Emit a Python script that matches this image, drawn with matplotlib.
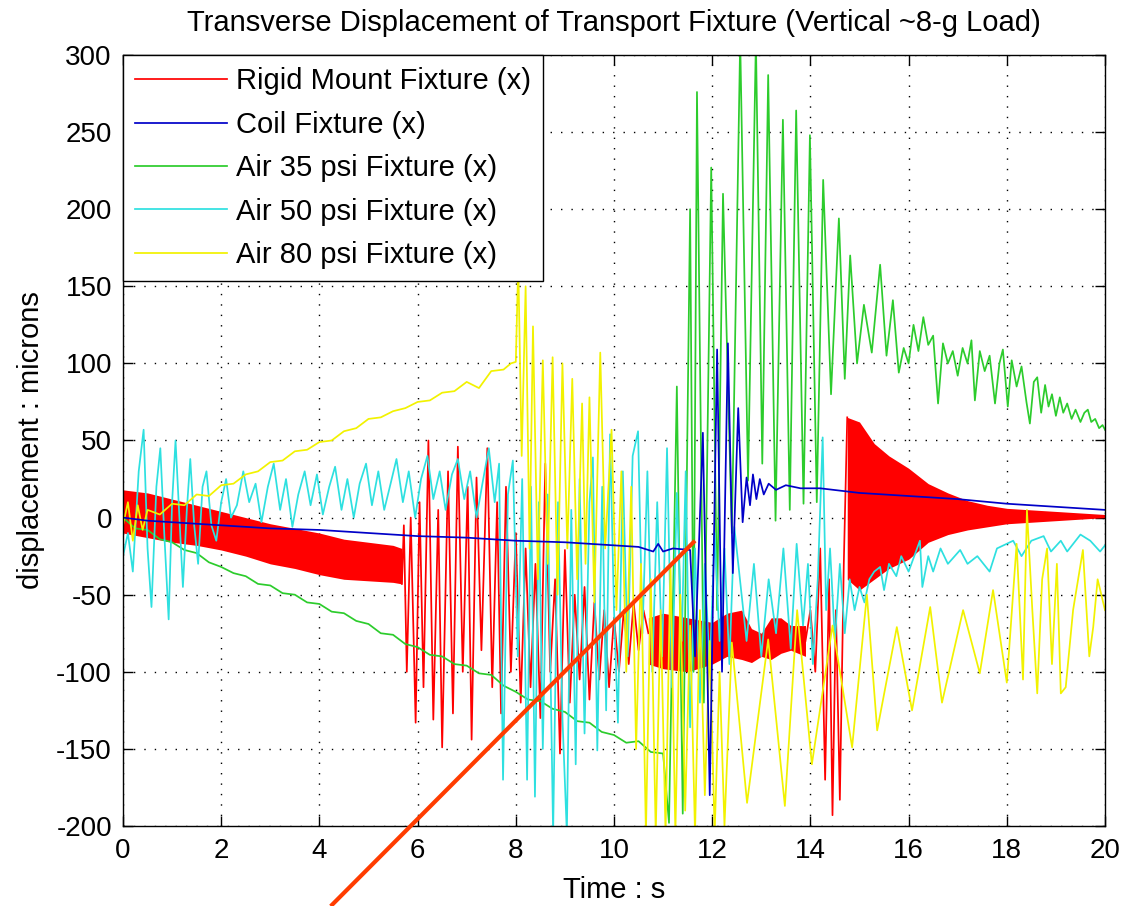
import matplotlib
matplotlib.use('Agg')
import matplotlib.pyplot as plt
from matplotlib.lines import Line2D

plt.rcParams['font.family'] = ['Liberation Sans', 'DejaVu Sans']
plt.rcParams['axes.unicode_minus'] = False

# ---------------- data ----------------
title = 'Transverse Displacement of Transport Fixture (Vertical ~8-g Load)'
xlabel = 'Time : s'
ylabel = 'displacement : microns'
series_names = ['Rigid Mount Fixture (x)', 'Coil Fixture (x)', 'Air 35 psi Fixture (x)',
                'Air 50 psi Fixture (x)', 'Air 80 psi Fixture (x)']
x_ticks = [0, 2, 4, 6, 8, 10, 12, 14, 16, 18, 20]
y_ticks = [-200, -150, -100, -50, 0, 50, 100, 150, 200, 250, 300]

# Rigid mount: dense bands (envelopes) + large oscillation segments
red_band1_t = [0, 0.5, 1.0, 1.5, 2.0, 2.5, 3.0, 3.5, 4.0, 4.5, 5.0, 5.5, 5.68]
red_band1_hi = [18, 16, 12, 8, 4, 0, -4, -7, -10, -14, -16, -18, -20]
red_band1_lo = [-10, -13, -16, -18, -21, -25, -30, -33, -37, -40, -41, -42, -43]
red_line1_t = [5.68, 5.72, 5.78, 5.86, 5.96, 6.04, 6.12, 6.22, 6.32, 6.42, 6.50, 6.62, 6.72,
               6.82, 6.92, 7.02, 7.10, 7.20, 7.30, 7.42, 7.52, 7.62, 7.70, 7.80, 7.90, 8.00,
               8.10, 8.20, 8.30, 8.40, 8.50, 8.60, 8.70, 8.80, 8.90, 9.00, 9.10, 9.20, 9.30,
               9.40, 9.50, 9.60, 9.70, 9.80, 9.90, 10.00, 10.10, 10.20, 10.30, 10.40, 10.50,
               10.60, 10.70]
red_line1_v = [-43, -5, -100, 0, -133, 10, -110, 50, -131, 5, -149, 30, -127, 46, -100, 20,
               -144, 26, -86, 45, -110, 10, -127, 20, -100, -10, -120, -20, -110, -30, -130,
               35, -100, -40, -153, -21, -120, -50, -105, -45, -118, -55, -105, -60, -110,
               -65, -100, -60, -95, -55, -86, -60, -75]
red_band2_t = [10.7, 11.0, 11.5, 12.0, 12.3, 12.6, 12.8, 13.0, 13.2, 13.4, 13.6, 13.9]
red_band2_hi = [-65, -62, -65, -68, -62, -60, -72, -75, -65, -65, -70, -70]
red_band2_lo = [-95, -98, -100, -95, -90, -92, -94, -90, -92, -88, -86, -90]
red_line2_t = [13.9, 14.0, 14.1, 14.2, 14.3, 14.38, 14.45, 14.52, 14.6, 14.68, 14.75]
red_line2_v = [-80, -60, -100, -20, -170, -40, -193, -60, -183, -30, 65]
red_band3_t = [14.75, 15.0, 15.3, 15.6, 16.0, 16.4, 16.8, 17.2, 17.6, 18.0, 18.5, 19.0, 19.5, 20.0]
red_band3_hi = [65, 62, 48, 40, 32, 22, 16, 11, 8, 6, 5, 4, 3, 2]
red_band3_lo = [-40, -47, -40, -33, -27, -16, -11, -8, -6, -4, -3, -2, -1, 0]

# Coil fixture
blue_t = [0, 0.5, 1, 2, 3, 4, 5, 6, 7, 8, 9, 10, 10.5, 10.8, 10.9, 11.0, 11.2, 11.55, 11.65,
          11.81, 11.95, 12.1, 12.2, 12.32, 12.42, 12.53, 12.62, 12.7, 12.77, 12.83, 12.9,
          12.97, 13.05, 13.15, 13.3, 13.5, 13.8, 14.2, 15, 16, 17, 18, 19, 20]
blue_v = [0, -2, -3, -5, -7, -8, -10, -12, -13, -15, -16, -18, -19, -22, -17, -22, -20, -21,
          -90, 55, -180, 109, -100, 113, -36, 71, -3, 26, 8, 28, 12, 25, 15, 22, 18, 21, 19,
          19, 16, 14, 12, 9, 7, 5]

# Air 35 psi
green_t = [0, 0.25, 0.5, 0.75, 1.0, 1.25, 1.5, 1.75, 2.0, 2.25, 2.5, 2.75, 3.0, 3.25, 3.5,
           3.75, 4.0, 4.25, 4.5, 4.75, 5.0, 5.25, 5.5, 5.75, 6.0, 6.25, 6.5, 6.75, 7.0, 7.25,
           7.5, 7.75, 8.0, 8.25, 8.5, 8.75, 9.0, 9.25, 9.5, 9.75, 10.0, 10.25, 10.5, 10.75,
           11.0,
           11.12, 11.28, 11.4, 11.55, 11.62, 11.69, 11.83, 11.98, 12.1, 12.22, 12.4, 12.57,
           12.73, 12.89, 13.02, 13.14, 13.29, 13.44, 13.58, 13.71, 13.86, 13.99, 14.13,
           14.26, 14.42, 14.58, 14.7, 14.81, 14.95, 15.09, 15.25, 15.42, 15.55, 15.68, 15.8,
           15.9, 16.0, 16.1, 16.2, 16.3, 16.4, 16.5, 16.6, 16.7, 16.8, 16.9, 17.0, 17.1,
           17.2, 17.28, 17.35, 17.45, 17.55, 17.65, 17.76, 17.85, 17.92, 18.02, 18.1, 18.2,
           18.3, 18.4, 18.47, 18.55, 18.62, 18.7, 18.78, 18.85, 18.92, 19.0, 19.08, 19.15,
           19.23, 19.32, 19.4, 19.5, 19.58, 19.65, 19.72, 19.8, 19.88, 19.95, 20.0]
green_v = [0, -7, -8, -14, -16, -21, -23, -29, -32, -36, -38, -43, -44, -49, -50, -55, -56,
           -61, -62, -67, -69, -75, -76, -82, -84, -89, -90, -95, -96, -101, -102, -109,
           -113, -118, -119, -124, -126, -132, -133, -139, -141, -146, -145, -152, -153,
           -198, 85, -192, 200, -100, 276, -120, 227, -60, 210, -10, 310, 24, 310, 35, 287,
           -2, 258, 5, 264, 9, 248, 10, 219, 80, 194, 90, 170, 100, 138, 107, 164, 105, 141,
           94,
           110, 100, 125, 108, 130, 112, 118, 74, 113, 100, 108, 92, 110, 100, 115, 76, 108,
           95, 105, 74, 100, 109, 72, 102, 85, 98, 75, 61, 88, 91, 68, 86, 72, 80, 66, 78,
           68, 74, 64, 70, 62, 68, 70, 62, 64, 58, 60, 57]

# Air 50 psi
cyan_t = [0, 0.1, 0.2, 0.32, 0.42, 0.5, 0.58, 0.68, 0.76, 0.84, 0.93, 1.0, 1.07, 1.15, 1.22,
          1.3, 1.37, 1.45, 1.53, 1.62, 1.7, 1.8, 1.9, 2.0,
          2.1, 2.2, 2.32, 2.45, 2.57, 2.7, 2.82, 2.95, 3.07, 3.2, 3.32, 3.45, 3.57, 3.7, 3.82,
          3.95, 4.07, 4.2, 4.32, 4.45, 4.57, 4.7, 4.82, 4.95, 5.07, 5.2, 5.32, 5.45, 5.57,
          5.7, 5.82, 5.95, 6.07, 6.2, 6.32, 6.45, 6.57, 6.7, 6.82, 6.95, 7.07, 7.2, 7.32,
          7.45, 7.57,
          7.66, 7.74, 7.84, 7.94, 8.04, 8.13, 8.23, 8.31, 8.39, 8.47, 8.55, 8.65, 8.76, 8.86,
          8.95, 9.04, 9.13, 9.22, 9.3, 9.4, 9.5, 9.57, 9.66, 9.76, 9.84, 9.92, 10.0, 10.08,
          10.18, 10.28, 10.38, 10.49, 10.58, 10.68, 10.78, 10.88, 10.98, 11.08, 11.18,
          11.28, 11.38, 11.46, 11.55, 11.65, 11.75, 11.85, 11.95, 12.05, 12.15, 12.25,
          12.35, 12.45,
          12.7, 12.85, 13.0, 13.15, 13.3, 13.45, 13.6, 13.72, 13.85, 13.95, 14.05, 14.15,
          14.25, 14.32, 14.4, 14.5, 14.6, 14.7, 14.8, 14.9, 15.0, 15.1, 15.2, 15.3, 15.42,
          15.5, 15.6, 15.75, 15.85, 16.0, 16.23, 16.28, 16.4, 16.5, 16.65, 16.8, 17.05,
          17.2, 17.4, 17.65, 17.8, 18.13, 18.3, 18.5, 18.75, 18.9, 19.1, 19.23, 19.5, 19.7,
          19.9, 20.0]
cyan_v = [-25, -10, -35, 30, 57, -20, -58, 20, 45, -10, -66, 10, 50, 0, -45, 5, 38, -5, -30,
          20, 30, -5, -15, 10,
          25, 0, 8, 30, 10, 22, -3, 20, 35, 5, 25, -6, 15, 30, 8, 28, 2, 20, 33, 5, 25, 0,
          22, 35, 8, 30, 5, 22, 38, 10, 30, 0, 25, 40, 12, 30, 5, 28, 38, 12, 30, 0, 22, 45,
          10,
          35, -170, 15, 37, -90, 25, -170, 20, -181, 10, -150, 15, -205, 10, -130, -205, 5,
          -160, 25, -140, 10, 39, -151, 20, -125, 54, -60, -133, 30, -90, 40, 56, -75, 30,
          -100, 10, -90, 45, -110, 16, -80, 30, -136, -20, -120, -30, -100, -10, -80, -20,
          -95, -6,
          -80, -30, -90, -40, -75, -20, -85, -17, -70, -30, -95, -40, 52, -60, -20, -80, -30,
          -75, -40, -60, -45, -55, -40, -35, -32, -47, -30, -38, -25, -35, -15, -45, -25,
          -35, -20, -30, -21, -30, -25, -35, -20, -15, -25, -15, -12, -22, -15, -22, -11,
          -15, -22, -18]

# Air 80 psi
yellow_t = [0, 0.1, 0.2, 0.3, 0.4, 0.5, 0.75, 1.0, 1.25, 1.5, 1.75, 2.0, 2.25, 2.5, 2.75, 3.0,
            3.25, 3.5, 3.75, 4.0, 4.25, 4.5, 4.75, 5.0, 5.25, 5.5, 5.75, 6.0, 6.25, 6.5, 6.75,
            7.0, 7.25, 7.5, 7.75, 7.9, 8.0,
            8.05, 8.12, 8.2, 8.28, 8.35, 8.45, 8.55, 8.65, 8.75, 8.85, 8.95, 9.05, 9.15, 9.25,
            9.35, 9.42, 9.5, 9.6, 9.72, 9.82, 9.95, 10.05, 10.15, 10.25, 10.35, 10.45, 10.55,
            10.65, 10.75, 10.85, 10.95, 11.05, 11.15, 11.25, 11.35, 11.45, 11.55, 11.65,
            11.75, 11.85, 11.95, 12.05, 12.15, 12.25,
            12.4, 12.71, 13.14, 13.48, 13.73, 14.03, 14.45, 14.85, 15.15, 15.36, 15.76, 16.07,
            16.44, 16.68, 17.11, 17.45, 17.72, 18.0, 18.2, 18.33, 18.41, 18.52, 18.62, 18.72,
            18.82, 18.92, 19.02, 19.1, 19.2, 19.35, 19.55, 19.68, 19.76, 19.85, 20.0]
yellow_v = [-5, 10, -15, 8, -8, 5, 2, 9, 8, 15, 14, 21, 22, 28, 30, 36, 37, 43, 44, 49, 50, 56,
            58, 64, 65, 69, 71, 75, 76, 81, 82, 88, 84, 95, 96, 100, 101,
            165, 40, 150, -20, 124, -40, 102, -30, 104, -50, 100, -20, 90, -40, 74, -30, 78,
            -55, 107, -20, 57, -60, 30, -100, 20, -150, -30, -205, -40, -205, -60, -205, -30,
            -205, -50, -190, -70, -205, -60, -180, -80, -205, -100, -200,
            -81, -185, -79, -187, -60, -160, -70, -149, -50, -138, -71, -125, -58, -120, -60,
            -101, -47, -107, -17, -105, 5, -60, -114, -40, -20, -95, -30, -114, -110, -60,
            -21, -90, -71, -40, -60]

# hand-drawn annotation stroke (data coordinates of its two ends)
annot_t = [4.23, 11.65]
annot_v = [-252, -15]

# ---------------- styling ----------------
c_red, c_blue, c_green, c_cyan, c_yellow = '#ff0000', '#0000c8', '#2ccc2c', '#2ee0e0', '#f2f200'
lw = 1.25

fig = plt.figure(figsize=(11.21, 9.06), dpi=100)
ax = fig.add_axes([123 / 1121, 1 - 826 / 906, 982 / 1121, 771 / 906])

ax.fill_between(red_band1_t, red_band1_lo, red_band1_hi, color=c_red, lw=0, zorder=2)
ax.plot(red_line1_t, red_line1_v, color=c_red, lw=lw, zorder=2)
ax.fill_between(red_band2_t, red_band2_lo, red_band2_hi, color=c_red, lw=0, zorder=2)
ax.plot(red_line2_t, red_line2_v, color=c_red, lw=lw, zorder=2)
ax.fill_between(red_band3_t, red_band3_lo, red_band3_hi, color=c_red, lw=0, zorder=2)
ax.plot(green_t, green_v, color=c_green, lw=lw, zorder=2.1)
ax.plot(cyan_t, cyan_v, color=c_cyan, lw=lw, zorder=2.2)
ax.plot(yellow_t, yellow_v, color=c_yellow, lw=lw, zorder=2.3)
ax.plot(blue_t, blue_v, color=c_blue, lw=lw, zorder=2.4)

ax.set_xlim(0, 20)
ax.set_ylim(-200, 300)
ax.set_xticks(x_ticks)
ax.set_yticks(y_ticks)
ax.grid(True, color='k', linestyle=(0, (1, 6.5)), linewidth=1.0)
ax.tick_params(direction='in', length=7, width=1, top=True, right=True, labelsize=20)
ax.tick_params(axis='x', pad=9)
ax.tick_params(axis='y', pad=8)
for s in ax.spines.values():
    s.set_linewidth(1.0)

ax.set_title(title, fontsize=21, pad=17)
ax.set_xlabel(xlabel, fontsize=21, labelpad=8)
ax.set_ylabel(ylabel, fontsize=21, labelpad=8)

handles = [Line2D([], [], color=c, lw=lw) for c in (c_red, c_blue, c_green, c_cyan, c_yellow)]
leg = ax.legend(handles, series_names, loc='upper left', bbox_to_anchor=(0, 1),
                borderaxespad=0, fancybox=False, framealpha=1, edgecolor='k',
                fontsize=21, handlelength=3.15, handletextpad=0.3, labelspacing=0.53,
                borderpad=0.42)
leg.get_frame().set_linewidth(1.0)
leg.set_zorder(5)

ax.plot(annot_t, annot_v, color='#ff3c00', lw=3, clip_on=False, zorder=10,
        solid_capstyle='butt')

fig.savefig('out.png', dpi=100)
